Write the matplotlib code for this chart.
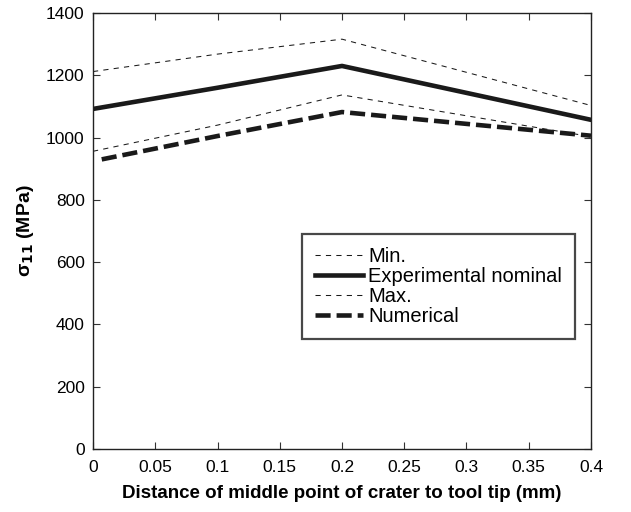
import matplotlib

matplotlib.use("Agg")

import matplotlib.pyplot as plt

plt.rcParams["font.family"] = ["Liberation Sans", "DejaVu Sans"]

# values (MPa)
x_exp = [0.0, 0.1, 0.2, 0.4]
upper_band = [1212, 1268, 1316, 1103]
nominal = [1092, 1160, 1230, 1057]
lower_band = [956, 1040, 1137, 1003]

x_num = [0.007, 0.1, 0.2, 0.4]
numerical = [930, 1005, 1082, 1006]

x_ticks = [0, 0.05, 0.1, 0.15, 0.2, 0.25, 0.3, 0.35, 0.4]
x_ticklabels = ["0", "0.05", "0.1", "0.15", "0.2", "0.25", "0.3", "0.35", "0.4"]
y_ticks = [0, 200, 400, 600, 800, 1000, 1200, 1400]

ink = "#1a1a1a"

fig = plt.figure(figsize=(6.31, 5.12), dpi=100)
ax = fig.add_axes([0.1474, 0.123, 0.7892, 0.8516])

ax.plot(x_exp, lower_band, color=ink, lw=0.75, ls=(0, (5, 5)), label="Min.")
ax.plot(x_exp, nominal, color=ink, lw=3.3, ls="-", label="Experimental nominal")
ax.plot(x_exp, upper_band, color=ink, lw=0.75, ls=(0, (5, 5)), label="Max.")
ax.plot(x_num, numerical, color=ink, lw=3.3, ls=(0, (3.3, 1.3)), label="Numerical")

ax.set_xlim(0, 0.4)
ax.set_ylim(0, 1400)
ax.set_xticks(x_ticks)
ax.set_xticklabels(x_ticklabels)
ax.set_yticks(y_ticks)
ax.tick_params(direction="in", top=True, right=True, labelsize=12.5,
               length=5, width=0.8, color="#333333")
ax.tick_params(axis="x", pad=8)
ax.tick_params(axis="y", pad=6)
for sp in ax.spines.values():
    sp.set_linewidth(1.0)
    sp.set_color("#222222")

ax.set_xlabel("Distance of middle point of crater to tool tip (mm)",
              fontsize=13.5, fontweight="bold", labelpad=7)
ax.set_ylabel(r"σ$_{\mathbf{11}}$ (MPa)", fontsize=14, fontweight="bold", labelpad=7)

leg = ax.legend(loc="upper left", bbox_to_anchor=(0.4786, 0.543),
                bbox_transform=fig.transFigure, fontsize=14.5,
                frameon=True, fancybox=False, handlelength=2.4, handletextpad=0.25,
                borderpad=0.65, labelspacing=0.05, borderaxespad=0)
leg.get_frame().set_edgecolor(ink)
leg.get_frame().set_linewidth(1.6)

fig.savefig("out.png", dpi=100)
